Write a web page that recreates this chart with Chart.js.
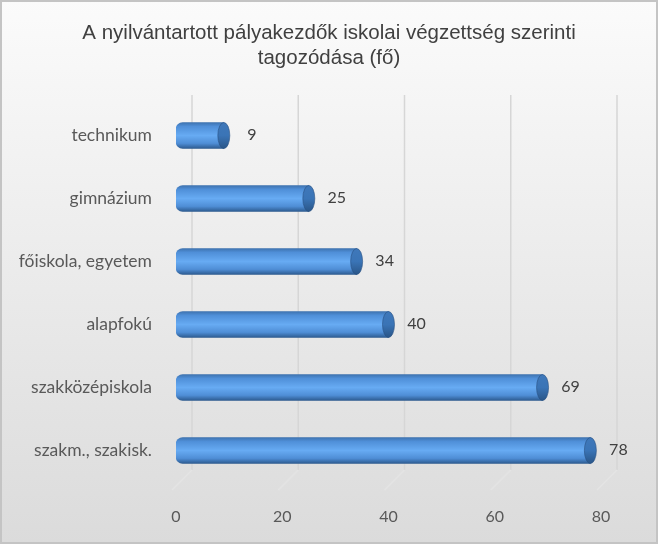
<!DOCTYPE html>
<html>
<head>
<meta charset="utf-8">
<script src="https://cdn.jsdelivr.net/npm/chart.js@4.4.1/dist/chart.umd.min.js"></script>
<style>
  html, body { margin: 0; padding: 0; background: #fff; }
  #wrap { width: 658px; height: 544px; position: relative; }
</style>
</head>
<body>
<div id="wrap"><canvas id="chart" width="658" height="544"></canvas></div>
<script>
// chart data
const titleLines = ['A nyilvántartott pályakezdők iskolai végzettség szerinti', 'tagozódása (fő)'];
const categories = ['technikum', 'gimnázium', 'főiskola, egyetem', 'alapfokú', 'szakközépiskola', 'szakm., szakisk.'];
const values = [9, 25, 34, 40, 69, 78];
const xTicks = [0, 20, 40, 60, 80];

const labelFont = 'Lato, "Open Sans", sans-serif';

// Background panel with soft gradient and border
const panelPlugin = {
  id: 'panel',
  beforeDraw(chart) {
    const ctx = chart.ctx;
    const w = chart.width, h = chart.height;
    const g = ctx.createLinearGradient(0, 0, 0, h);
    g.addColorStop(0, '#fbfbfb');
    g.addColorStop(1, '#dbdbdb');
    ctx.save();
    ctx.fillStyle = g;
    ctx.fillRect(0, 0, w, h);
    ctx.strokeStyle = '#c4c4c4';
    ctx.lineWidth = 2;
    ctx.strokeRect(1, 1, w - 2, h - 2);
    ctx.restore();
  }
};

// 3D-looking back-wall gridlines
const backGridPlugin = {
  id: 'backGrid',
  beforeDatasetsDraw(chart) {
    const ctx = chart.ctx;
    const xs = chart.scales.x;
    const area = chart.chartArea;
    ctx.save();
    ctx.lineWidth = 1.5;
    xTicks.forEach(v => {
      const x = xs.getPixelForValue(v);
      ctx.strokeStyle = '#d6d6d6';
      ctx.beginPath();
      ctx.moveTo(x + 16, area.top - 9);
      ctx.lineTo(x + 16, area.bottom - 12);
      ctx.stroke();
      ctx.strokeStyle = '#e4e4e4';
      ctx.beginPath();
      ctx.moveTo(x + 16, area.bottom - 12);
      ctx.lineTo(x - 4, area.bottom + 8);
      ctx.stroke();
    });
    ctx.restore();
  }
};

// Cylinder end caps and value labels
const capsPlugin = {
  id: 'caps',
  afterDatasetsDraw(chart) {
    const ctx = chart.ctx;
    const meta = chart.getDatasetMeta(0);
    ctx.save();
    meta.data.forEach((bar, i) => {
      const half = bar.height / 2;
      const g = ctx.createLinearGradient(0, bar.y - half, 0, bar.y + half);
      g.addColorStop(0, '#3f78ba');
      g.addColorStop(0.5, '#3a74b6');
      g.addColorStop(1, '#2a5688');
      ctx.fillStyle = g;
      ctx.beginPath();
      ctx.ellipse(bar.x, bar.y, 6, half, 0, 0, Math.PI * 2);
      ctx.fill();
      ctx.strokeStyle = 'rgba(40,80,130,0.6)';
      ctx.lineWidth = 1;
      ctx.stroke();

      ctx.fillStyle = '#404040';
      ctx.font = '16px ' + labelFont;
      ctx.textAlign = 'center';
      ctx.textBaseline = 'middle';
      ctx.fillText(String(values[i]), bar.x + 28, bar.y - 1);
    });
    ctx.restore();
  }
};

// vertical shading for the cylinder body
function barFill(context) {
  const chart = context.chart;
  const ys = chart.scales.y;
  if (!ys || context.dataIndex === undefined) return '#5b9bd5';
  const yc = ys.getPixelForValue(context.dataIndex);
  if (!isFinite(yc)) return '#5b9bd5';
  const g = chart.ctx.createLinearGradient(0, yc - 13, 0, yc + 13);
  g.addColorStop(0, '#3e73b0');
  g.addColorStop(0.15, '#4f8fd8');
  g.addColorStop(0.5, '#67abf3');
  g.addColorStop(0.8, '#4f8ed6');
  g.addColorStop(1, '#2d5b90');
  return g;
}

const ctx = document.getElementById('chart').getContext('2d');

new Chart(ctx, {
  type: 'bar',
  data: {
    labels: categories,
    datasets: [{
      data: values,
      barThickness: 26,
      borderSkipped: false,
      borderRadius: { topLeft: 7, bottomLeft: 7, topRight: 0, bottomRight: 0 },
      backgroundColor: barFill
    }]
  },
  options: {
    indexAxis: 'y',
    responsive: false,
    animation: false,
    layout: {
      padding: { top: 6, right: 0, bottom: 22, left: 0 }
    },
    scales: {
      x: {
        min: 0,
        max: 80,
        afterBuildTicks(scale) {
          scale.ticks = xTicks.map(v => ({ value: v }));
        },
        afterFit(scale) { scale.height = 40; },
        grid: { display: false, drawTicks: false },
        border: { display: false },
        ticks: {
          color: '#595959',
          font: { family: labelFont, size: 16 },
          padding: 25
        }
      },
      y: {
        afterFit(scale) { scale.width = 176; },
        grid: { display: false, drawTicks: false },
        border: { display: false },
        ticks: {
          color: '#595959',
          font: { family: labelFont, size: 17.5 },
          padding: 24
        }
      },
      // empty right-hand spacer so the plot ends before the panel edge
      yRight: {
        type: 'category',
        position: 'right',
        afterFit(scale) { scale.width = 57; },
        grid: { display: false, drawTicks: false },
        border: { display: false },
        ticks: { display: false }
      }
    },
    plugins: {
      legend: { display: false },
      tooltip: { enabled: false },
      title: {
        display: true,
        text: titleLines,
        color: '#404040',
        font: { family: '"Liberation Sans", Arial, sans-serif', size: 20.5, weight: 'normal', lineHeight: 1.22 },
        padding: { top: 15, bottom: 33 }
      }
    }
  },
  plugins: [panelPlugin, backGridPlugin, capsPlugin]
});
</script>
</body>
</html>
